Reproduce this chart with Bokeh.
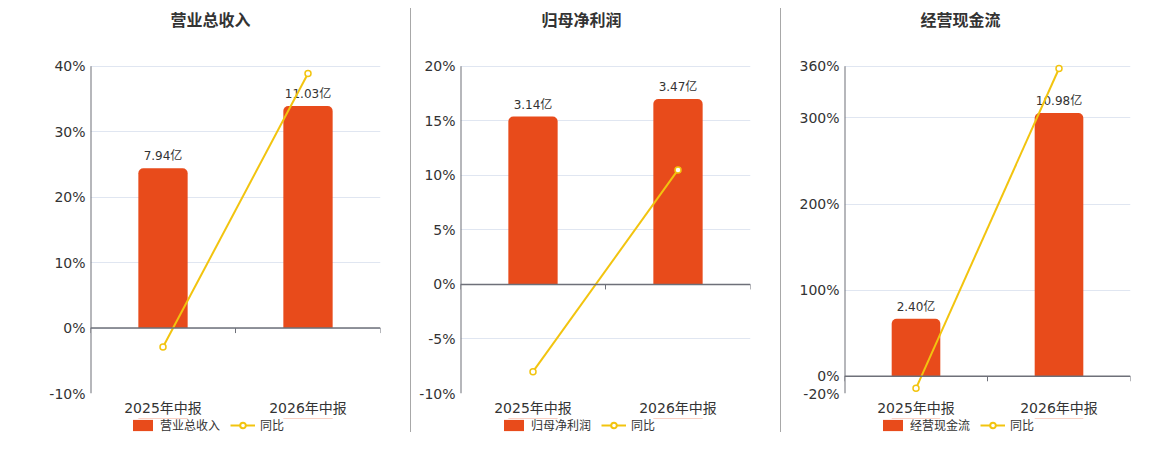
import math
from bokeh.plotting import figure
from bokeh.models import (Range1d, FixedTicker, PrintfTickFormatter, Span,
                          Legend, LegendItem, ColumnDataSource, Div)
from bokeh.layouts import row, column
from bokeh.embed import file_html
from bokeh.resources import INLINE
from bokeh.core.properties import value

# ---------------- data ----------------
categories = ["2025年中报", "2026年中报"]
titles = ["营业总收入", "归母净利润", "经营现金流"]
revenue = [7.94, 11.03]
revenue_yoy = [-2.9, 38.9]
profit = [3.14, 3.47]
profit_yoy = [-8.0, 10.5]
cashflow = [2.40, 10.98]
cashflow_yoy = [-14.0, 357.5]
value_unit = "亿"
yoy_name = "同比"

pct_ticks_1 = [-10, 0, 10, 20, 30, 40]
pct_ticks_2 = [-10, -5, 0, 5, 10, 15, 20]
pct_ticks_3 = [-20, 0, 100, 200, 300, 360]
bar_axis_max = [13.0, 4.08, 12.93]

# ---------------- style / layout ----------------
FONT_S = "DejaVu Sans, Noto Sans CJK SC, sans-serif"
FONT = value(FONT_S)
BAR_COLOR = "#E84B1B"
LINE_COLOR = "#F2C40F"
AXIS_COLOR = "#6E7079"
GRID_COLOR = "#E0E6F1"
TEXT_COLOR = "#333333"

# (fig width, border left, border right, title center relative to frame left)
layouts = [(410, 90, 30, 120), (369, 49, 30, 121), (362, 63, 13, 116)]
MAIN_H = 418       # main figure height
B_BOTTOM = 24      # room for x labels
PLOT_TOP = 66      # pixel where the highest percent tick sits
TITLE_Y = 20       # pixel of title centre
LEG_H = 16         # legend strip height
FRAME_H = MAIN_H - B_BOTTOM
AXIS_H = FRAME_H - PLOT_TOP


def make_panel(idx, title, vals, yoy, ticks):
    fw, bl, br, tc = layouts[idx]
    frame_w = fw - bl - br
    n = len(categories)
    lo, hi = ticks[0], ticks[-1]
    upp = (hi - lo) / AXIS_H
    bhi = bar_axis_max[idx]
    blo = bhi * lo / hi
    bupp = (bhi - blo) / AXIS_H

    p = figure(width=fw, height=MAIN_H, output_backend="svg", toolbar_location=None,
               x_range=Range1d(-0.5, n - 0.5),
               y_range=Range1d(lo, hi + PLOT_TOP * upp),
               min_border_left=bl, min_border_right=br, min_border_top=0,
               min_border_bottom=B_BOTTOM, tools="")
    p.extra_y_ranges = {"bar": Range1d(blo, bhi + PLOT_TOP * bupp)}
    p.outline_line_color = None

    xs = list(range(n))
    src = ColumnDataSource(dict(x=xs, v=vals, yoy=yoy,
                                lbl=[f"{v:.2f}{value_unit}" for v in vals]))

    p.xaxis.ticker = FixedTicker(ticks=xs)
    p.xaxis.major_label_overrides = {i: c for i, c in enumerate(categories)}
    p.xaxis.axis_line_color = None
    p.xaxis.major_tick_line_color = None
    p.xaxis.minor_tick_line_color = None
    p.xaxis.major_tick_out = 0
    p.xaxis.major_label_standoff = 6
    p.xaxis.major_label_text_font = FONT_S
    p.xaxis.major_label_text_font_size = "14px"
    p.xaxis.major_label_text_color = TEXT_COLOR

    p.yaxis.ticker = FixedTicker(ticks=ticks)
    p.yaxis.formatter = PrintfTickFormatter(format="%d%%")
    p.yaxis.axis_line_color = None
    p.yaxis.major_tick_line_color = None
    p.yaxis.minor_tick_line_color = None
    p.yaxis.major_tick_out = 0
    p.yaxis.major_label_standoff = 5
    p.yaxis.major_label_text_font = FONT_S
    p.yaxis.major_label_text_font_size = "14px"
    p.yaxis.major_label_text_color = TEXT_COLOR

    p.xgrid.visible = False
    p.ygrid.ticker = FixedTicker(ticks=ticks)
    p.ygrid.grid_line_color = GRID_COLOR

    # y axis line only over the percent span
    p.segment(x0=[-0.5], y0=[lo], x1=[-0.5], y1=[hi], line_color=AXIS_COLOR, line_width=2)

    # bars + value labels
    p.vbar(x="x", top="v", bottom=0, width=0.34, source=src, y_range_name="bar",
           fill_color=BAR_COLOR, line_color=None, border_radius=(5, 5, 0, 0))
    p.text(x="x", y="v", text="lbl", source=src, y_range_name="bar", y_offset=-5,
           text_align="center", text_baseline="bottom", text_font=FONT,
           text_font_size="12px", text_color=TEXT_COLOR)

    # zero axis line with category boundary ticks
    p.add_layout(Span(location=0, dimension="width", line_color=AXIS_COLOR, line_width=1.6))
    bounds = [i - 0.5 for i in range(n + 1)]
    p.ray(x=bounds, y=[0] * len(bounds), length=5, length_units="screen",
          angle=-math.pi / 2, line_color=AXIS_COLOR, line_width=1)

    # yoy line
    p.line(x="x", y="yoy", source=src, line_color=LINE_COLOR, line_width=2)
    p.scatter(x="x", y="yoy", source=src, size=6, marker="circle", fill_color="white",
              line_color=LINE_COLOR, line_width=1.5)

    # title (inside the frame, above the percent span)
    p.text(x=[-0.5 + tc * n / frame_w], y=[hi + (PLOT_TOP - TITLE_Y) * upp], text=[title],
           text_align="center", text_baseline="middle", text_font=FONT,
           text_font_size="16px", text_font_style="bold", text_color=TEXT_COLOR)

    # legend strip (its frame is aligned with the main frame by the column);
    # its renderers lie far outside its y range, so only the legend shows
    lg = figure(width=fw, height=LEG_H, output_backend="svg", toolbar_location=None,
                x_range=Range1d(-0.5, n - 0.5), y_range=Range1d(-1000, -999),
                x_axis_type=None, y_axis_type=None, min_border=0, tools="")
    lg.outline_line_color = None
    lg.grid.visible = False
    r_bar = lg.vbar(x="x", top="v", bottom=0, width=0.34, source=src,
                    fill_color=BAR_COLOR, line_color=None)
    r_line = lg.line(x="x", y="yoy", source=src, line_color=LINE_COLOR, line_width=2)
    r_mark = lg.scatter(x="x", y="yoy", source=src, size=11, marker="circle",
                        fill_color="white", line_color=LINE_COLOR, line_width=2)
    legend = Legend(items=[LegendItem(label=title, renderers=[r_bar]),
                           LegendItem(label=yoy_name, renderers=[r_line, r_mark])],
                    orientation="horizontal", location=(tc - 80, 1),
                    glyph_width=25, glyph_height=14, label_standoff=5, spacing=10,
                    padding=0, margin=0, border_line_color=None,
                    background_fill_alpha=0, label_text_font=FONT_S,
                    label_text_font_size="12px", label_text_color=TEXT_COLOR)
    lg.add_layout(legend, "center")
    return column(p, lg)


c1 = make_panel(0, titles[0], revenue, revenue_yoy, pct_ticks_1)
c2 = make_panel(1, titles[1], profit, profit_yoy, pct_ticks_2)
c3 = make_panel(2, titles[2], cashflow, cashflow_yoy, pct_ticks_3)

sep1 = Div(text="", width=1, height=424, styles={"background-color": "#a8a8a8"}, margin=(8, 0, 0, 0))
sep2 = Div(text="", width=1, height=424, styles={"background-color": "#a8a8a8"}, margin=(8, 0, 0, 0))

layout = row(c1, sep1, c2, sep2, c3)
open("out.html", "w").write(file_html(layout, INLINE))
